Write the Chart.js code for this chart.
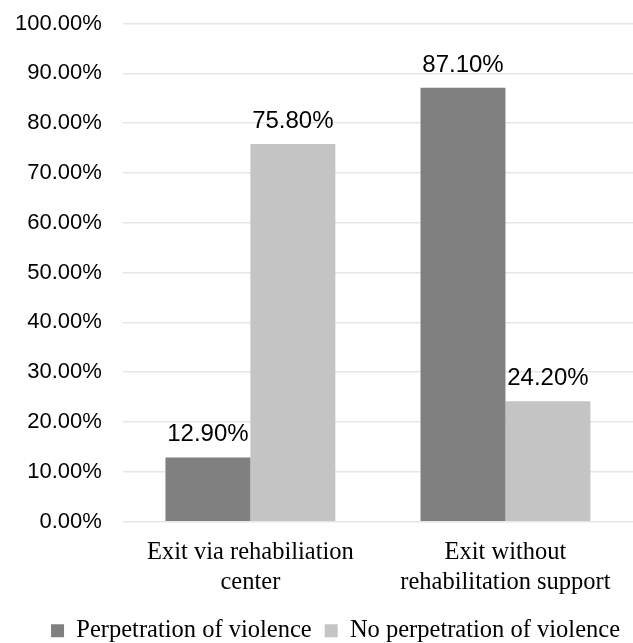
<!DOCTYPE html>
<html>
<head>
<meta charset="utf-8">
<script src="https://cdn.jsdelivr.net/npm/chart.js@4"></script>
<style>
  html, body { margin: 0; padding: 0; background: #fff; }
  #wrap { width: 633px; height: 643px; }
</style>
</head>
<body>
<div id="wrap"><canvas id="chart"></canvas></div>
<script>
// Data
const categories = [['Exit via rehabiliation', 'center'], ['Exit without', 'rehabilitation support']];
const seriesNames = ['Perpetration of violence', 'No perpetration of violence'];
const perpetration = [12.9, 87.1];
const noPerpetration = [75.8, 24.2];
const seriesColors = ['#808080', '#c4c4c4'];

const serif = '"Liberation Serif", "Times New Roman", serif';
const sans = '"Liberation Sans", Arial, sans-serif';

// Value labels above each bar
const barLabels = {
  id: 'barLabels',
  afterDatasetsDraw(chart) {
    const { ctx } = chart;
    ctx.save();
    ctx.font = '24px ' + sans;
    ctx.fillStyle = '#000';
    ctx.textAlign = 'center';
    ctx.textBaseline = 'alphabetic';
    chart.data.datasets.forEach((ds, i) => {
      chart.getDatasetMeta(i).data.forEach((bar, j) => {
        ctx.fillText(ds.data[j].toFixed(2) + '%', bar.x, bar.y - 16);
      });
    });
    ctx.restore();
  }
};

const ctx = document.getElementById('chart').getContext('2d');
new Chart(ctx, {
  type: 'bar',
  data: {
    labels: categories,
    datasets: [
      { label: seriesNames[0], data: perpetration, backgroundColor: seriesColors[0] },
      { label: seriesNames[1], data: noPerpetration, backgroundColor: seriesColors[1] }
    ]
  },
  options: {
    responsive: true,
    maintainAspectRatio: false,
    animation: false,
    categoryPercentage: 0.666,
    barPercentage: 1,
    layout: { padding: { top: 23.5, right: 0, left: -6, bottom: -10 } },
    plugins: {
      tooltip: { enabled: false },
      legend: {
        position: 'bottom',
        align: 'end',
        labels: {
          font: { family: serif, size: 24.5 },
          color: '#000',
          boxWidth: 13,
          boxHeight: 13,
          padding: 13
        }
      }
    },
    scales: {
      x: {
        grid: { display: false },
        border: { display: false },
        ticks: {
          font: { family: serif, size: 24.5, lineHeight: 1.2 },
          color: '#000',
          maxRotation: 0,
          padding: 8.5
        }
      },
      y: {
        min: 0,
        max: 100,
        // the tick padding is only meant as horizontal gap, not extra room on top
        afterFit: scale => { scale.paddingTop = 0; },
        ticks: {
          stepSize: 10,
          font: { family: sans, size: 22 },
          color: '#000',
          padding: 21,
          callback: v => v.toFixed(2) + '%'
        },
        grid: { color: '#e6e6e6', lineWidth: 1.5, drawTicks: false },
        border: { display: false }
      }
    }
  },
  plugins: [barLabels]
});
</script>
</body>
</html>
